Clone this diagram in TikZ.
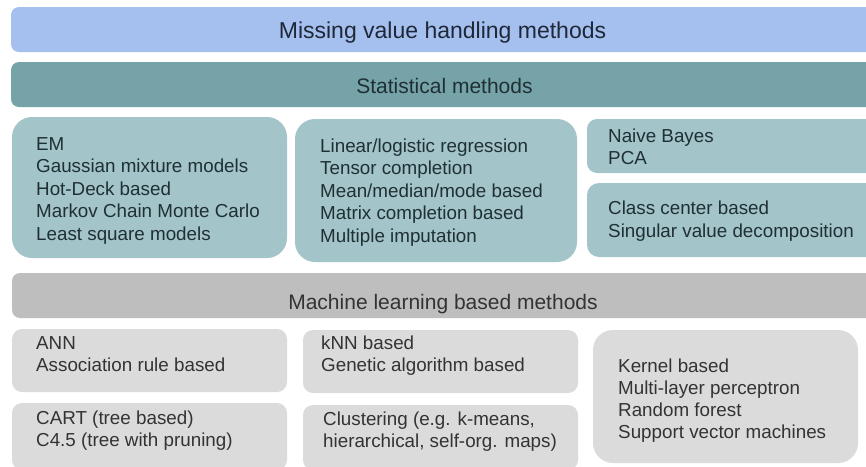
\documentclass[tikz,border=0pt]{standalone}
\usepackage{fontspec}
\setmainfont{Liberation Sans}

% fills and text colours
\definecolor{topfill}{HTML}{A5C0EF}
\definecolor{statbar}{HTML}{75A3A8}
\definecolor{statbox}{HTML}{A3C4C8}
\definecolor{mlbar}{HTML}{BEBEBE}
\definecolor{mlbox}{HTML}{DBDBDB}
\definecolor{titletext}{HTML}{1E2838}
\definecolor{stattext}{HTML}{1F3035}
\definecolor{bodytext}{HTML}{333333}

\begin{document}
\begin{tikzpicture}[x=1pt,y=-1pt,
  header/.style={anchor=base, inner sep=0pt},
  statlines/.style={anchor=north west, inner sep=0pt, align=left,
    font=\fontsize{18.8}{22.5}\selectfont, text=stattext},
  mllines/.style={anchor=north west, inner sep=0pt, align=left,
    font=\fontsize{18.8}{22}\selectfont, text=bodytext}
]
\useasboundingbox (0,0) rectangle (866,466);
\fill[white] (0,0) rectangle (866,466);

% header bars
\fill[topfill, rounded corners=8pt] (11,7) rectangle (884,52);
\fill[statbar, rounded corners=8pt] (11,62) rectangle (884,107);
\fill[mlbar, rounded corners=8pt] (12,273) rectangle (884,318);

% statistical method groups
\fill[statbox, rounded corners=20pt] (12,117) rectangle (287,258);
\fill[statbox, rounded corners=20pt] (295,119) rectangle (577,262);
\fill[statbox, rounded corners=10pt] (587,119) rectangle (884,173);
\fill[statbox, rounded corners=12pt] (587,183) rectangle (884,257);

% machine learning groups
\fill[mlbox, rounded corners=10pt] (12,329) rectangle (287,392);
\fill[mlbox, rounded corners=10pt] (12,403) rectangle (287,470);
\fill[mlbox, rounded corners=10pt] (303,330) rectangle (578,393);
\fill[mlbox, rounded corners=10pt] (303,405) rectangle (578,470);
\fill[mlbox, rounded corners=20pt] (593,330) rectangle (858,463);

% headings
\node[header, font=\fontsize{23}{27}\selectfont, text=titletext] (title)
  at (442.5,38) {Missing value handling methods};
\node[header, font=\fontsize{21}{25}\selectfont, text=stattext] (stat)
  at (444.5,93.5) {Statistical methods};
\node[header, font=\fontsize{21}{25}\selectfont, text=bodytext] (ml)
  at (443,309.5) {Machine learning based methods};

% statistical methods
\node[statlines] (em) at (36,134.25) {\strut EM\\\strut Gaussian mixture models\\\strut Hot-Deck based\\\strut Markov Chain Monte Carlo\\\strut Least square models};
\node[statlines] (lin) at (320,136.25) {\strut Linear/logistic regression\\\strut Tensor completion\\\strut Mean/median/mode based\\\strut Matrix completion based\\\strut Multiple imputation};
\node[statlines] (nb) at (608,126.5) {\strut Naive Bayes\\\strut PCA};
\node[statlines] (cc) at (608,199) {\strut Class center based\\\strut Singular value decomposition};

% machine learning methods
\node[mllines] (ann) at (36,333.6) {\strut ANN\\\strut Association rule based};
\node[mllines] (cart) at (36,408.6) {\strut CART (tree based)\\\strut C4.5 (tree with pruning)};
\node[mllines] (knn) at (321,333.6) {\strut kNN based\\\strut Genetic algorithm based};
\node[mllines] (clu) at (323,409.6) {\strut Clustering (e.g. k-means,\\\strut hierarchical, self-org. maps)};
\node[mllines] (ker) at (618,356.6) {\strut Kernel based\\\strut Multi-layer perceptron\\\strut Random forest\\\strut Support vector machines};
\end{tikzpicture}
\end{document}
